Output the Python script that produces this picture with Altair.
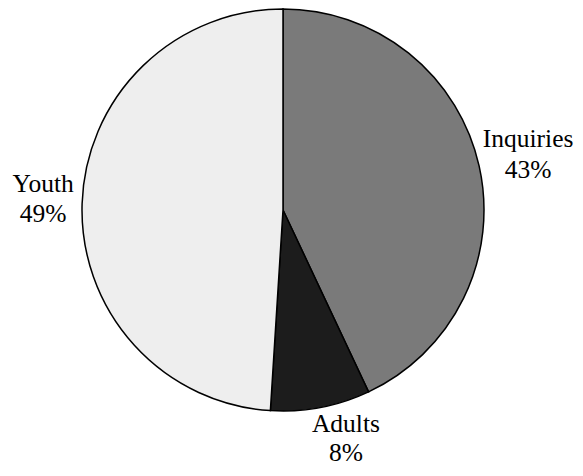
import altair as alt
import pandas as pd

categories = ["Inquiries", "Adults", "Youth"]
values = [43, 8, 49]
pct_labels = ["43%", "8%", "49%"]
fills = ["#7a7a7a", "#1c1c1c", "#eeeeee"]

df = pd.DataFrame({"cat": categories, "val": values, "pct": pct_labels,
                   "ord": list(range(len(categories)))})

cx, cy = 275, 202
serif = "Times New Roman, Liberation Serif, DejaVu Serif, serif"
R = 245
# per-label nudges (dx, dy of name line, dy of percent line)
nudges = {"Inquiries": (6, -10, 21), "Adults": (17, -19, 10), "Youth": (5, -10, 20)}

base = alt.Chart(df).encode(
    theta=alt.Theta("val:Q", stack=True),
    order=alt.Order("ord:Q"),
    x=alt.value(cx), y=alt.value(cy),
)

arcs = base.mark_arc(outerRadius=201, stroke="black", strokeWidth=1.5).encode(
    color=alt.Color("cat:N", scale=alt.Scale(domain=categories, range=fills), legend=None),
)

layers = [arcs]
for c in categories:
    dx, dy1, dy2 = nudges[c]
    layers.append(base.mark_text(radius=R, font=serif, fontSize=25.5, dx=dx, dy=dy1,
                                 align="center", baseline="alphabetic", color="black").encode(
        text=alt.condition(alt.datum.cat == c, "cat:N", alt.value("")),
    ))
    layers.append(base.mark_text(radius=R, font=serif, fontSize=25.5, dx=dx, dy=dy2,
                                 align="center", baseline="alphabetic", color="black").encode(
        text=alt.condition(alt.datum.cat == c, "pct:N", alt.value("")),
    ))

chart = alt.layer(*layers).properties(
    width=567, height=460, padding=0, autosize=alt.AutoSizeParams(type="none")
).configure_view(stroke=None)

chart.save("out.html", embed_options={"renderer": "svg", "actions": False})
